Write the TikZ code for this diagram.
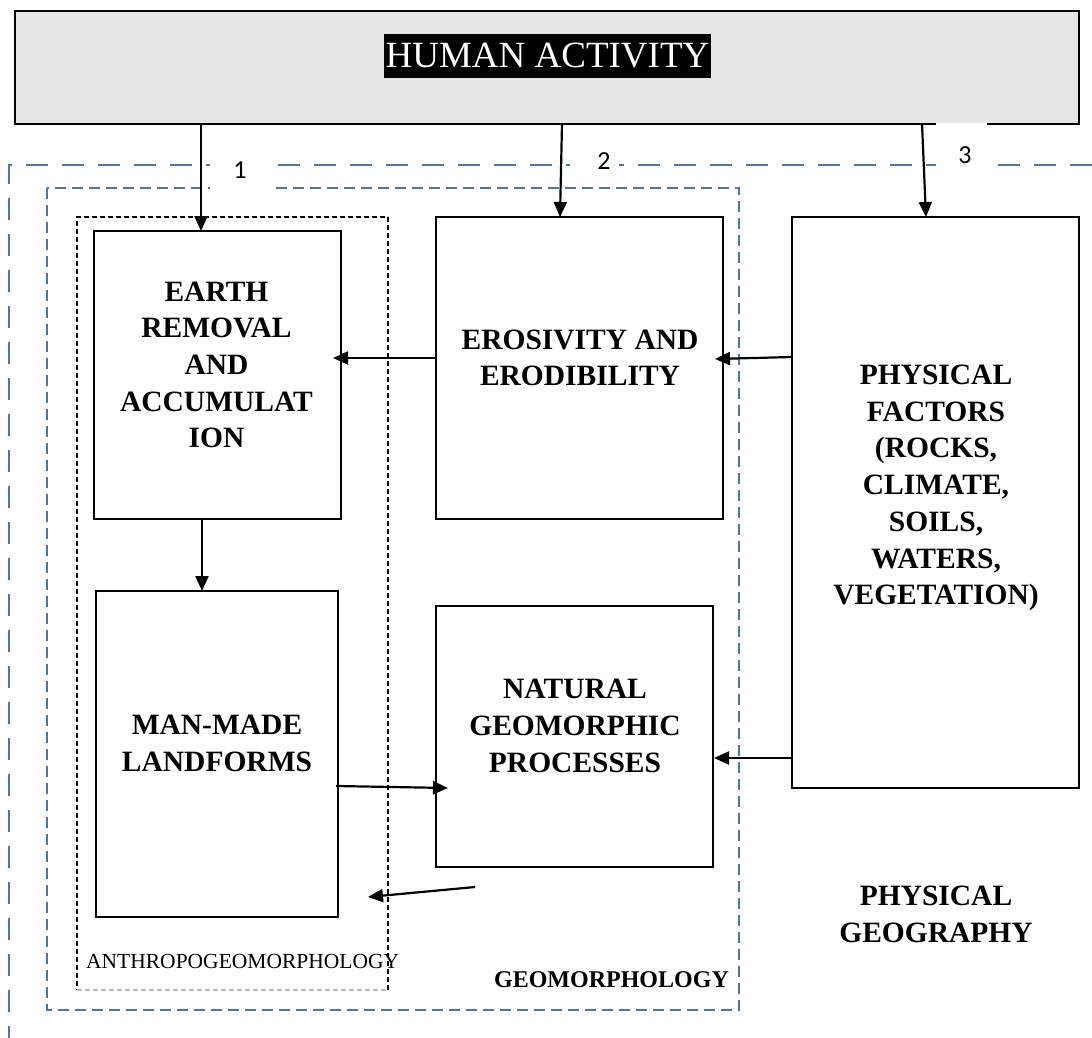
\documentclass[tikz,border=0pt]{standalone}
\usepackage{fontspec}
\setmainfont{Liberation Serif}
\newfontfamily\carlito{Carlito}
\usetikzlibrary{arrows.meta}
\definecolor{dblue}{HTML}{4A77A8}
\definecolor{hagray}{RGB}{230,230,230}
\begin{document}
\begin{tikzpicture}[x=1pt,y=-1pt,
  box/.style={draw, line width=2.5pt, fill=white, inner sep=0pt, outer sep=0pt},
  btext/.style={font=\fontsize{29.5}{36.7}\selectfont\bfseries, align=center, inner sep=0pt},
  arr/.style={line width=2.2pt, -{Triangle[length=15pt,width=13pt]}},
  odash/.style={draw=dblue, line width=2.6pt, dash pattern=on 22pt off 14pt},
  idash/.style={draw=dblue, line width=2.2pt, dash pattern=on 11pt off 6pt},
  bdash/.style={line width=2pt, dash pattern=on 5pt off 3pt},
  num/.style={font=\carlito\fontsize{26}{30}\selectfont, inner sep=0pt}]
\useasboundingbox (0,0) rectangle (1092,1038);
\fill[white] (0,0) rectangle (1092,1038);

% top box
\node[draw, line width=2.2pt, fill=hagray, minimum width=1064pt, minimum height=113pt, inner sep=0pt, outer sep=0pt] (ha) at (547,67.5) {};
\node[fill=black, text=white, minimum width=327pt, minimum height=44pt, inner sep=0pt, font=\fontsize{37}{40}\selectfont] (hat) at (547.5,56) {HUMAN ACTIVITY};

% dashed frames
\draw[odash] (1092,165) -- (9,165) -- (9,1038);
\draw[idash] (47,188) rectangle (739,1010);
\draw[bdash] (388,990) -- (388,217) -- (77,217) -- (77,990);
\draw[bdash, draw=gray!55] (77,990) -- (388,990);

% white covers behind the numbers
\fill[white] (210,150) rectangle (270,190);
\fill[white] (570,140) rectangle (619,180);
\fill[white] (936,123.5) rectangle (987,172);
\node[num] (n1) at (240,170) {1};
\node[num] (n2) at (604,161) {2};
\node[num] (n3) at (965,155) {3};

% boxes
\node[box, minimum width=247pt, minimum height=288pt] (earth) at (217.5,375) {};
\node[box, minimum width=287pt, minimum height=302pt] (eros) at (579.5,368) {};
\node[box, minimum width=287pt, minimum height=571pt] (phys) at (935.5,502.5) {};
\node[box, minimum width=242pt, minimum height=326pt] (man) at (217,754) {};
\node[box, minimum width=277pt, minimum height=261pt] (nat) at (574.5,736.5) {};

% box texts
\node[btext] (tearth) at (216.5,365) {EARTH\\REMOVAL\\AND\\ACCUMULAT\\ION};
\node[btext] (teros) at (580,358) {EROSIVITY AND\\ERODIBILITY};
\node[btext] (tphys) at (936,488) {PHYSICAL\\FACTORS\\(ROCKS,\\CLIMATE,\\SOILS,\\WATERS,\\VEGETATION)};
\node[btext] (tman) at (217,743.5) {MAN-MADE\\LANDFORMS};
\node[btext] (tnat) at (575,726) {NATURAL\\GEOMORPHIC\\PROCESSES};

% area labels
\node[font=\fontsize{21.5}{26}\selectfont, inner sep=0pt, anchor=base west] (lanth) at (86,968) {ANTHROPOGEOMORPHOLOGY};
\node[font=\fontsize{24}{29}\selectfont\bfseries, inner sep=0pt, anchor=base east] (lgeo) at (729,987) {GEOMORPHOLOGY};
\node[font=\fontsize{29.5}{37}\selectfont\bfseries, align=center, inner sep=0pt] (lphys) at (936,914) {PHYSICAL\\GEOGRAPHY};

% arrows
\draw[arr] ([xshift=-346pt]ha.south) -- ([xshift=-16.5pt]earth.north);
\draw[arr] ([xshift=15pt]ha.south) -- ([xshift=-19.5pt]eros.north);
\draw[arr] ([xshift=375pt]ha.south) -- ([xshift=-9.5pt]phys.north);
\draw[arr] ([yshift=10pt]eros.west) -- ([xshift=-8pt,yshift=17pt]earth.east);
\draw[arr] ([yshift=145.5pt]phys.west) -- ([xshift=-8pt,yshift=9pt]eros.east);
\draw[arr] ([xshift=-15.5pt]earth.south) -- ([xshift=-15pt]man.north);
\draw[arr] ([xshift=-2pt,yshift=-32pt]man.east) -- ([xshift=12pt,yshift=-51.5pt]nat.west);
\draw[arr] ([yshift=-255.5pt]phys.west) -- ([xshift=1pt,yshift=-21.5pt]nat.east);
\coordinate (fa) at (475,887);
\coordinate (fb) at (368,897);
\draw[arr] (fa) -- (fb);
\end{tikzpicture}
\end{document}
